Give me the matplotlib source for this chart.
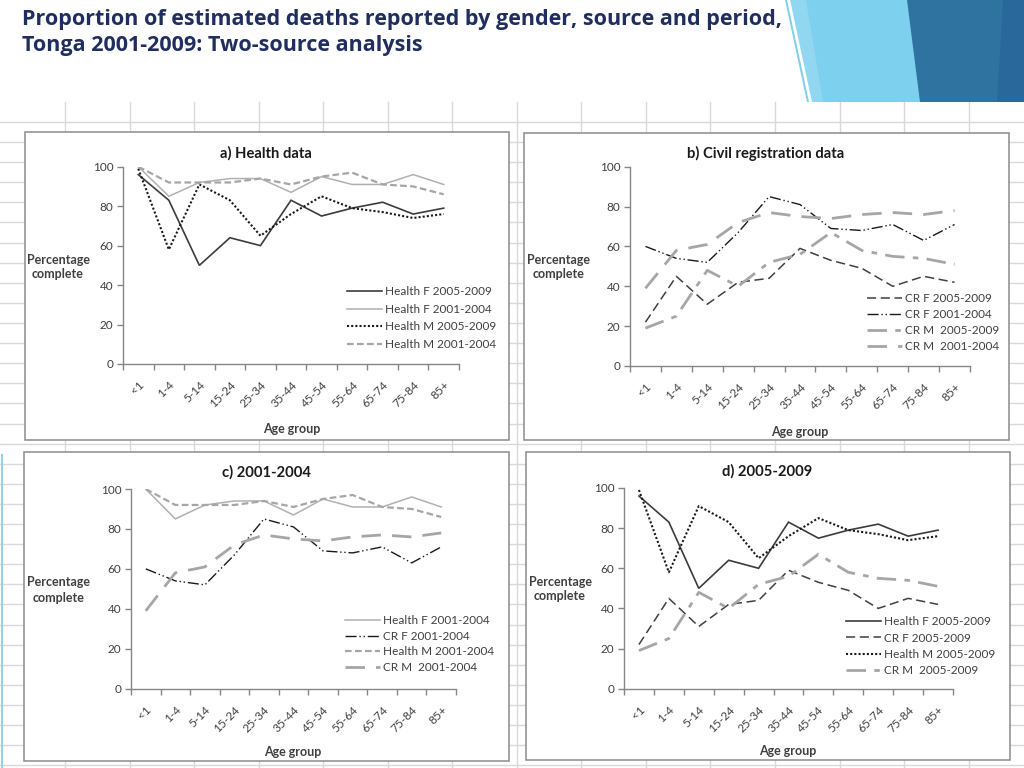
import matplotlib
matplotlib.use("Agg")
import matplotlib.pyplot as plt
from matplotlib.patches import Rectangle, Polygon
from matplotlib.transforms import ScaledTranslation

# age groups on the x axis
AGE_GROUPS = ["<1", "1-4", "5-14", "15-24", "25-34", "35-44",
              "45-54", "55-64", "65-74", "75-84", "85+"]

# percentage complete
HEALTH_F_0509 = [96, 83, 50, 64, 60, 83, 75, 79, 82, 76, 79]
HEALTH_F_0104 = [100, 85, 92, 94, 94, 87, 95, 91, 91, 96, 91]
HEALTH_M_0509 = [99, 58, 91, 83, 65, 76, 85, 79, 77, 74, 76]
HEALTH_M_0104 = [100, 92, 92, 92, 94, 91, 95, 97, 91, 90, 86]
CR_F_0509 = [22, 45, 31, 42, 44, 59, 53, 49, 40, 45, 42]
CR_F_0104 = [60, 54, 52, 67, 85, 81, 69, 68, 71, 63, 71]
CR_M_0509 = [19, 25, 48, 40, 52, 56, 67, 58, 55, 54, 51]
CR_M_0104 = [39, 58, 61, 72, 77, 75, 74, 76, 77, 76, 78]

SERIES = {
    "Health F 2005-2009": (HEALTH_F_0509, dict(color="#3c3c3c", lw=1.2, ls="-")),
    "Health F 2001-2004": (HEALTH_F_0104, dict(color="#b0b0b0", lw=1.1, ls="-")),
    "Health M 2005-2009": (HEALTH_M_0509, dict(color="#1a1a1a", lw=1.5, ls=(0, (1, 1)))),
    "Health M 2001-2004": (HEALTH_M_0104, dict(color="#a6a6a6", lw=1.6, ls=(0, (3, 1.5)))),
    "CR F 2005-2009": (CR_F_0509, dict(color="#404040", lw=1.1, ls=(0, (6, 3)))),
    "CR F 2001-2004": (CR_F_0104, dict(color="#1a1a1a", lw=1.0, ls=(0, (8, 2, 1, 2, 1, 2)))),
    "CR M  2005-2009": (CR_M_0509, dict(color="#a6a6a6", lw=2.0, ls=(0, (7, 3, 2, 3)))),
    "CR M  2001-2004": (CR_M_0104, dict(color="#a6a6a6", lw=2.0, ls=(0, (7, 4)))),
}

W, H = 1024, 768
TXT = "#404040"
FONT = "Lato"
FS = 8.5  # tick / legend size

# panel layout in pixels: frame box, axes box (l, r, top, bottom), title, labels, legend
PANELS = [
    dict(title="a) Health data",
         names=["Health F 2005-2009", "Health F 2001-2004", "Health M 2005-2009", "Health M 2001-2004"],
         frame=(25, 132, 509, 440), ax=(123, 459, 166.7, 364),
         title_xy=(266, 153), ylab_xy=(58, 267), xlab_xy=(292, 429),
         leg=(347, 292, 18)),
    dict(title="b) Civil registration data",
         names=["CR F 2005-2009", "CR F 2001-2004", "CR M  2005-2009", "CR M  2001-2004"],
         frame=(524, 133, 1009, 440), ax=(630, 970, 166.7, 366),
         title_xy=(766, 153), ylab_xy=(559, 267), xlab_xy=(800, 432),
         leg=(867, 299, 16.4)),
    dict(title="c) 2001-2004",
         names=["Health F 2001-2004", "CR F 2001-2004", "Health M 2001-2004", "CR M  2001-2004"],
         frame=(24, 452, 509, 761), ax=(131, 456, 489, 688.7),
         title_xy=(266, 472), ylab_xy=(59, 590), xlab_xy=(293, 752),
         leg=(345, 621, 16)),
    dict(title="d) 2005-2009",
         names=["Health F 2005-2009", "CR F 2005-2009", "Health M 2005-2009", "CR M  2005-2009"],
         frame=(526, 452, 1010, 760), ax=(624, 953, 488, 688.7),
         title_xy=(767, 471), ylab_xy=(560, 589), xlab_xy=(788, 751),
         leg=(846, 622, 16.7)),
]

fig = plt.figure(figsize=(W / 100, H / 100), dpi=100)
fig.patch.set_facecolor("white")

# background layer in pixel coords (y down)
bg = fig.add_axes([0, 0, 1, 1])
bg.set_xlim(0, W)
bg.set_ylim(H, 0)
bg.axis("off")

# spreadsheet grid behind the charts
x = 65.0
while x < W:
    bg.plot([x, x], [102, H], color="#d9d9d9", lw=1, zorder=1)
    x += 64.55
y = 122.0
while y < H:
    bg.plot([0, W], [y, y], color="#d9d9d9", lw=1, zorder=1)
    y += 20.1
bg.plot([1.5, 1.5], [455, H], color="#8fd3ee", lw=1.5, zorder=1)

# decorative shapes top right
bg.add_patch(Polygon([(790, 0), (W, 0), (W, 102), (812, 102)], color="#92d7f1", lw=0, zorder=2))
bg.add_patch(Polygon([(785, 0), (787, 0), (809, 102), (807, 102)], color="#7fcfee", lw=0, zorder=2))
bg.add_patch(Polygon([(806, 0), (W, 0), (W, 102), (823, 102)], color="#7dd0ee", lw=0, zorder=2))
bg.add_patch(Polygon([(907, 0), (W, 0), (W, 102), (920, 102)], color="#2f73a1", lw=0, zorder=2))
bg.add_patch(Polygon([(1003, 0), (W, 0), (W, 102), (997, 102)], color="#29689a", lw=0, zorder=2))

bg.text(22, 19, "Proportion of estimated deaths reported by gender, source and period,",
        fontsize=15.5, fontweight="bold", family="Open Sans", color="#1f2e5e", va="center")
bg.text(22, 46, "Tonga 2001-2009: Two-source analysis",
        fontsize=15.5, fontweight="bold", family="Open Sans", color="#1f2e5e", va="center")

xs = list(range(len(AGE_GROUPS)))
fs_px = FS * 100 / 72

for p in PANELS:
    fl, ft, fr, fb = p["frame"]
    bg.add_patch(Rectangle((fl, ft), fr - fl, fb - ft, facecolor="white",
                           edgecolor="#8c8c8c", lw=1.1, zorder=3))
    bg.text(*p["title_xy"], p["title"], ha="center", va="center", fontsize=10.6,
            fontweight="bold", family=FONT, color="#1a1a1a", zorder=4)
    bg.text(*p["ylab_xy"], "Percentage\ncomplete", ha="center", va="center", fontsize=9,
            fontweight="bold", family=FONT, color=TXT, linespacing=1.3, zorder=4)
    bg.text(*p["xlab_xy"], "Age group", ha="center", va="center", fontsize=9,
            fontweight="bold", family=FONT, color=TXT, zorder=4)

    l, r, t, b = p["ax"]
    ax = fig.add_axes([l / W, 1 - b / H, (r - l) / W, (b - t) / H])
    ax.set_facecolor("none")
    for name in p["names"]:
        vals, style = SERIES[name]
        ax.plot(xs, vals, label=name, solid_joinstyle="miter", **style)

    ax.set_xlim(-0.5, len(AGE_GROUPS) - 0.5)
    ax.set_ylim(0, 100)
    ax.set_yticks(range(0, 101, 20))
    ax.set_xticks([i - 0.5 for i in range(len(AGE_GROUPS) + 1)])
    ax.set_xticklabels([])
    ax.set_xticks(xs, minor=True)
    ax.set_xticklabels(AGE_GROUPS, minor=True, rotation=45, ha="right",
                       rotation_mode="anchor", fontsize=FS, family=FONT, color=TXT)
    shift = ScaledTranslation(4 / 100, 0, fig.dpi_scale_trans)
    for lab in ax.get_xticklabels(minor=True):
        lab.set_transform(lab.get_transform() + shift)
    ax.tick_params(axis="x", which="minor", length=0, pad=11)
    ax.tick_params(axis="x", which="major", length=4, color="#868686", width=1)
    ax.tick_params(axis="y", length=4, color="#868686", width=1, labelsize=FS,
                   labelcolor=TXT, pad=3)
    for lab in ax.get_yticklabels():
        lab.set_family(FONT)
    for s in ["top", "right"]:
        ax.spines[s].set_visible(False)
    for s in ["left", "bottom"]:
        ax.spines[s].set_color("#868686")
        ax.spines[s].set_linewidth(1)

    lx, ly, step = p["leg"]
    text_h = fs_px * 0.97
    ax.legend(loc="upper left", bbox_to_anchor=(lx / W, 1 - (ly - text_h / 2) / H),
              bbox_transform=fig.transFigure, frameon=False, borderpad=0,
              borderaxespad=0, handlelength=35 / fs_px, handletextpad=3 / fs_px,
              labelspacing=(step - text_h) / fs_px,
              prop={"family": FONT, "size": FS}, labelcolor=TXT)

fig.savefig("out.png", dpi=100, facecolor="white")
